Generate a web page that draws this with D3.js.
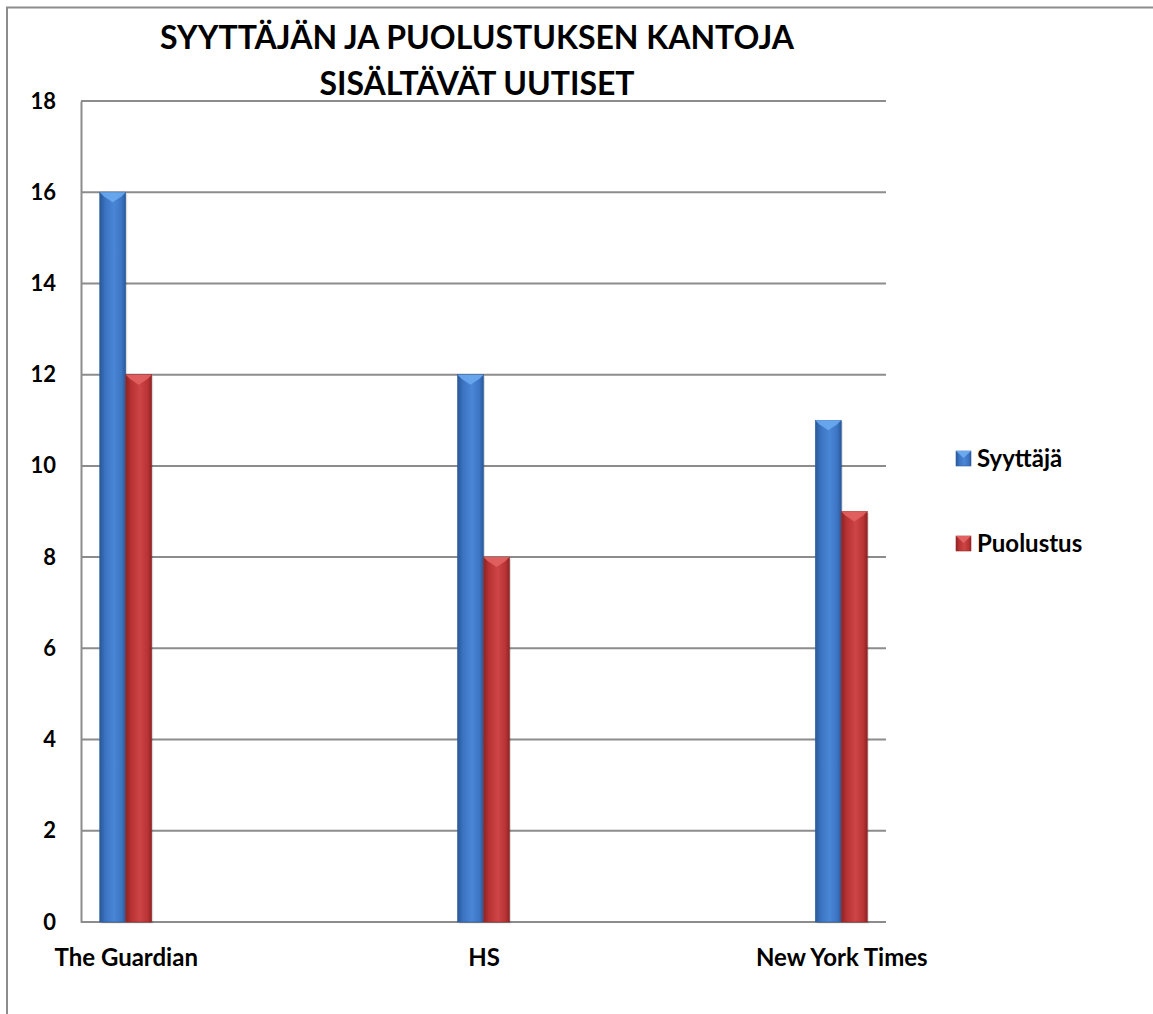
<!DOCTYPE html>
<html lang="fi">
<head>
<meta charset="UTF-8">
<title>Syyttäjän ja puolustuksen kantoja sisältävät uutiset</title>
<script src="https://d3js.org/d3.v7.min.js"></script>
<style>
  body { margin: 0; background: #fff; }
  svg text { font-family: Lato, "Open Sans", sans-serif; font-weight: 700; fill: #000; }
</style>
</head>
<body>
<div id="chart"></div>
<script>
// data
const categories = ["The Guardian", "HS", "New York Times"];
const seriesNames = ["Syyttäjä", "Puolustus"];
const syyttaja = [16, 12, 11];
const puolustus = [12, 8, 9];
const yTicks = [0, 2, 4, 6, 8, 10, 12, 14, 16, 18];
const titleLines = ["SYYTTÄJÄN JA PUOLUSTUKSEN KANTOJA", "SISÄLTÄVÄT UUTISET"];

const W = 1153, H = 1014;
const plot = { left: 81, right: 886, top: 101, bottom: 922 };
const barW = 26;

const svg = d3.select("#chart").append("svg")
    .attr("width", W)
    .attr("height", H);

const defs = svg.append("defs");
function cylGrad(id, dark, mid, light) {
    const g = defs.append("linearGradient").attr("id", id)
        .attr("x1", 0).attr("x2", 1).attr("y1", 0).attr("y2", 0);
    g.append("stop").attr("offset", "0%").attr("stop-color", dark);
    g.append("stop").attr("offset", "22%").attr("stop-color", mid);
    g.append("stop").attr("offset", "55%").attr("stop-color", light);
    g.append("stop").attr("offset", "85%").attr("stop-color", mid);
    g.append("stop").attr("offset", "100%").attr("stop-color", dark);
}
cylGrad("blueGrad", "#2a5896", "#3b74c2", "#4a86d6");
cylGrad("redGrad", "#8c2424", "#b93334", "#cd4545");

const colors = [
    { fill: "url(#blueGrad)", top: "#6aa8f0", edge: "#2d5fa3" },
    { fill: "url(#redGrad)", top: "#e26262", edge: "#9a2a2a" }
];

// outer frame
svg.append("rect")
    .attr("x", 7).attr("y", 7.5)
    .attr("width", W).attr("height", H)
    .attr("fill", "none")
    .attr("stroke", "#8c8c8c")
    .attr("stroke-width", 2);

const y = d3.scaleLinear().domain([0, 18]).range([plot.bottom, plot.top]);
const x = d3.scalePoint().domain(categories).range([plot.left, plot.right]).padding(0.125);

// gridlines
svg.append("g")
    .selectAll("line")
    .data(yTicks)
    .join("line")
    .attr("x1", plot.left).attr("x2", plot.right)
    .attr("y1", d => y(d)).attr("y2", d => y(d))
    .attr("stroke", "#8c8c8c")
    .attr("stroke-width", 2);

// y axis
const yAxis = svg.append("g")
    .attr("transform", `translate(${plot.left},0)`)
    .call(d3.axisLeft(y).tickValues(yTicks).tickSize(0).tickPadding(25));
yAxis.select(".domain").attr("stroke", "#8c8c8c").attr("stroke-width", 2);
yAxis.selectAll("text").style("font-size", "22px").attr("fill", "#000");

// x axis labels
const xAxis = svg.append("g")
    .attr("transform", `translate(0,${plot.bottom})`)
    .call(d3.axisBottom(x).tickSize(0).tickPadding(27));
xAxis.select(".domain").remove();
xAxis.selectAll("text").style("font-size", "24px").attr("fill", "#000");

// bars
const series = [syyttaja, puolustus];
series.forEach((vals, si) => {
    const g = svg.append("g");
    const off = si === 0 ? -barW : 0;
    const c = colors[si];
    g.selectAll("rect.shadow")
        .data(vals)
        .join("rect")
        .attr("class", "shadow")
        .attr("x", (d, i) => x(categories[i]) + off + 1.5)
        .attr("y", d => y(d) + 1.5)
        .attr("width", barW)
        .attr("height", d => plot.bottom - y(d))
        .attr("fill", "#000")
        .attr("opacity", 0.12);
    g.selectAll("rect.bar")
        .data(vals)
        .join("rect")
        .attr("class", "bar")
        .attr("x", (d, i) => x(categories[i]) + off)
        .attr("y", d => y(d))
        .attr("width", barW)
        .attr("height", d => plot.bottom - y(d))
        .attr("fill", c.fill)
        .attr("stroke", c.edge)
        .attr("stroke-width", 0.6);
    g.selectAll("path.cap")
        .data(vals)
        .join("path")
        .attr("class", "cap")
        .attr("d", (d, i) => {
            const x0 = x(categories[i]) + off, y0 = y(d);
            return `M${x0},${y0}L${x0 + barW},${y0}L${x0 + barW - 4},${y0 + 4}L${x0 + barW / 2},${y0 + 10}L${x0 + 4},${y0 + 4}Z`;
        })
        .attr("fill", c.top)
        .attr("opacity", 0.9);
});

// title
svg.append("text")
    .attr("text-anchor", "middle")
    .style("font-size", "32px")
    .selectAll("tspan")
    .data(titleLines)
    .join("tspan")
    .attr("x", 477)
    .attr("y", (d, i) => 49 + i * 46)
    .text(d => d);

// legend
const legend = svg.append("g").attr("transform", "translate(956,451)");
seriesNames.forEach((name, i) => {
    const row = legend.append("g").attr("transform", `translate(0,${i * 85})`);
    const c = colors[i];
    row.append("rect")
        .attr("width", 15).attr("height", 15)
        .attr("fill", c.fill)
        .attr("stroke", c.edge).attr("stroke-width", 0.6);
    row.append("path")
        .attr("d", "M0,0L15,0L7.5,7Z")
        .attr("fill", c.top);
    row.append("text")
        .attr("x", 21).attr("y", 8)
        .attr("dy", "0.35em")
        .style("font-size", "24px")
        .text(name);
});
</script>
</body>
</html>
